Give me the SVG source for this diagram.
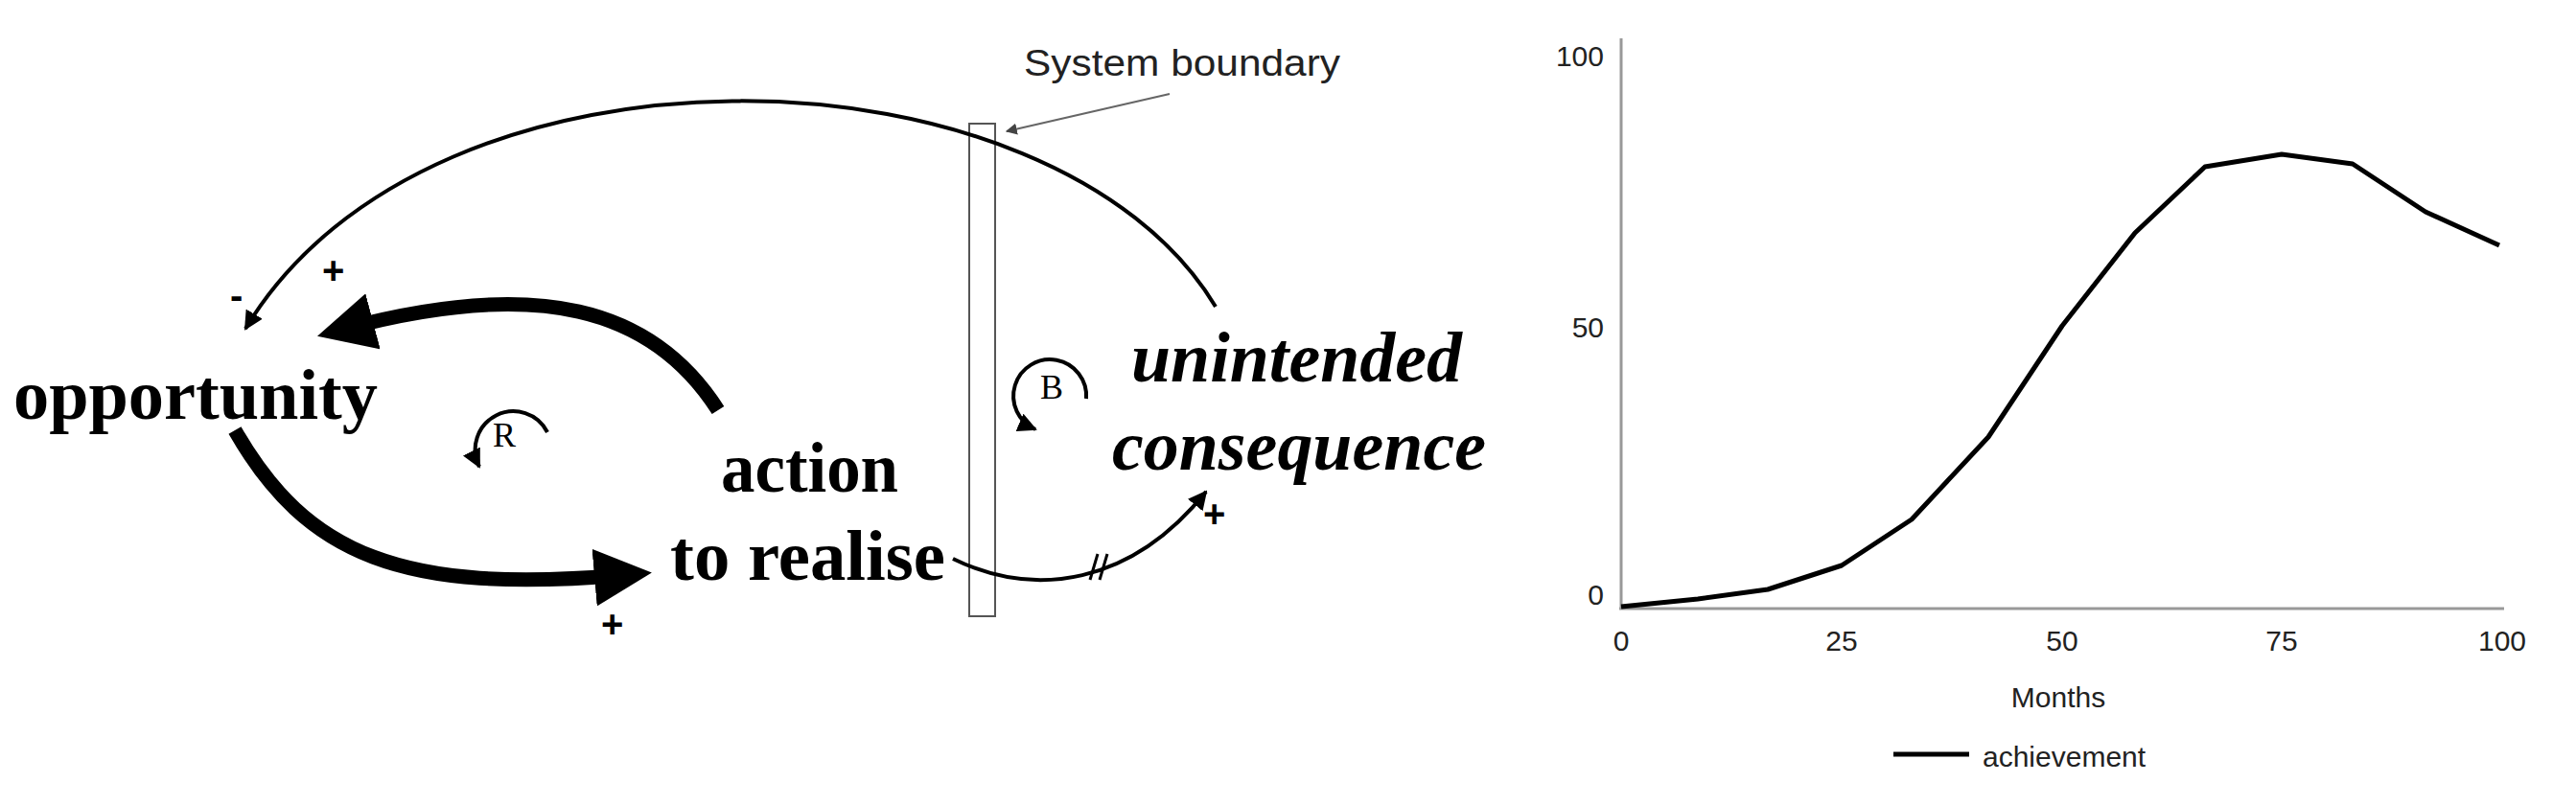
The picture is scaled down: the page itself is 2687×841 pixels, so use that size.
<svg xmlns="http://www.w3.org/2000/svg" width="2687" height="841" viewBox="0 0 2687 841">
<style>
.node{font-family:"Liberation Serif",serif;font-weight:bold;fill:#000}
.sign{font-family:"Liberation Sans",sans-serif;font-size:40px;font-weight:bold;fill:#000}
.thin{fill:none;stroke:#000;stroke-width:4}
.thick{fill:none;stroke:#000;stroke-width:15}
.ax{font-family:"Liberation Sans",sans-serif;font-size:30px;fill:#222}
</style>
<defs>
<marker id="ahs" viewBox="0 0 10 10" refX="9" refY="5" markerWidth="5" markerHeight="5" orient="auto"><path d="M0,0L10,5L0,10z"/></marker>
<marker id="ahb" viewBox="0 0 10 10" refX="5" refY="5" markerWidth="4" markerHeight="4" orient="auto"><path d="M0,0L10,5L0,10z"/></marker>
<marker id="ahg" viewBox="0 0 10 10" refX="9" refY="5" markerWidth="6" markerHeight="6" orient="auto"><path d="M0,0L10,5L0,10z" fill="#444"/></marker>
</defs>
<g id="boundary">
<rect x="1011" y="129" width="27" height="514" fill="#fff" stroke="#555" stroke-width="2"/>
<line x1="1220" y1="98" x2="1050" y2="137" stroke="#666" stroke-width="2" marker-end="url(#ahg)"/>
<text x="1068" y="79" font-family="Liberation Sans, sans-serif" font-size="38" textLength="330" lengthAdjust="spacingAndGlyphs" fill="#222">System boundary</text>
</g>
<g id="connectors">
<path class="thin" d="M1268,320 C1100,40 450,20 256,343" marker-end="url(#ahs)"/>
<path class="thick" d="M749,428 C680,320 560,290 360,343" marker-end="url(#ahb)"/>
<path class="thick" d="M245,449 C320,580 420,620 650,600" marker-end="url(#ahb)"/>
<path class="thin" d="M994,583 C1080,625 1180,610 1258,513" marker-end="url(#ahs)"/>
<line x1="1137" y1="605" x2="1145" y2="578" stroke="#000" stroke-width="3"/>
<line x1="1147" y1="605" x2="1155" y2="578" stroke="#000" stroke-width="3"/>
<text class="sign" x="240" y="322">-</text>
<text class="sign" x="336" y="296">+</text>
<text class="sign" x="627" y="665">+</text>
<text class="sign" x="1255" y="550">+</text>
</g>
<g id="opportunity"><text class="node" x="14" y="437" font-size="74" textLength="380" lengthAdjust="spacingAndGlyphs">opportunity</text></g>
<g id="action"><text class="node" x="752" y="513" font-size="74" textLength="185" lengthAdjust="spacingAndGlyphs">action</text><text class="node" x="699" y="605" font-size="74" textLength="287" lengthAdjust="spacingAndGlyphs">to realise</text></g>
<g id="unintended"><text class="node" x="1180" y="398" font-size="74" font-style="italic" textLength="345" lengthAdjust="spacingAndGlyphs">unintended</text><text class="node" x="1160" y="490" font-size="74" font-style="italic" textLength="390" lengthAdjust="spacingAndGlyphs">consequence</text></g>
<g id="loopR"><path class="thin" d="M571,451 A38,38 0 1 0 500,487" marker-end="url(#ahs)"/><text x="514" y="466" font-family="Liberation Serif,serif" font-size="36">R</text></g>
<g id="loopB"><path class="thin" d="M1133,416 A38,38 0 1 0 1080,448" marker-end="url(#ahs)"/><text x="1085" y="416" font-family="Liberation Serif,serif" font-size="36">B</text></g>
<g id="chart">
<line x1="1691" y1="40" x2="1691" y2="636" stroke="#999" stroke-width="3"/>
<line x1="1689" y1="635" x2="2612" y2="635" stroke="#999" stroke-width="3"/>
<text class="ax" x="1673" y="69" text-anchor="end">100</text>
<text class="ax" x="1673" y="352" text-anchor="end">50</text>
<text class="ax" x="1673" y="631" text-anchor="end">0</text>
<text class="ax" x="1691" y="679" text-anchor="middle">0</text>
<text class="ax" x="1921" y="679" text-anchor="middle">25</text>
<text class="ax" x="2151" y="679" text-anchor="middle">50</text>
<text class="ax" x="2380" y="679" text-anchor="middle">75</text>
<text class="ax" x="2610" y="679" text-anchor="middle">100</text>
<text class="ax" x="2147" y="738" text-anchor="middle" font-size="38">Months</text>
<polyline fill="none" stroke="#000" stroke-width="5" stroke-linejoin="round" points="1691,633 1771,625 1844,615 1921,590 1994,542 2074,456 2151,340 2227,243 2300,174 2380,161 2454,171 2530,221 2607,256"/>
<line x1="1975" y1="787" x2="2054" y2="787" stroke="#000" stroke-width="5"/>
<text class="ax" x="2068" y="800" font-size="36">achievement</text>
</g>
</svg>
